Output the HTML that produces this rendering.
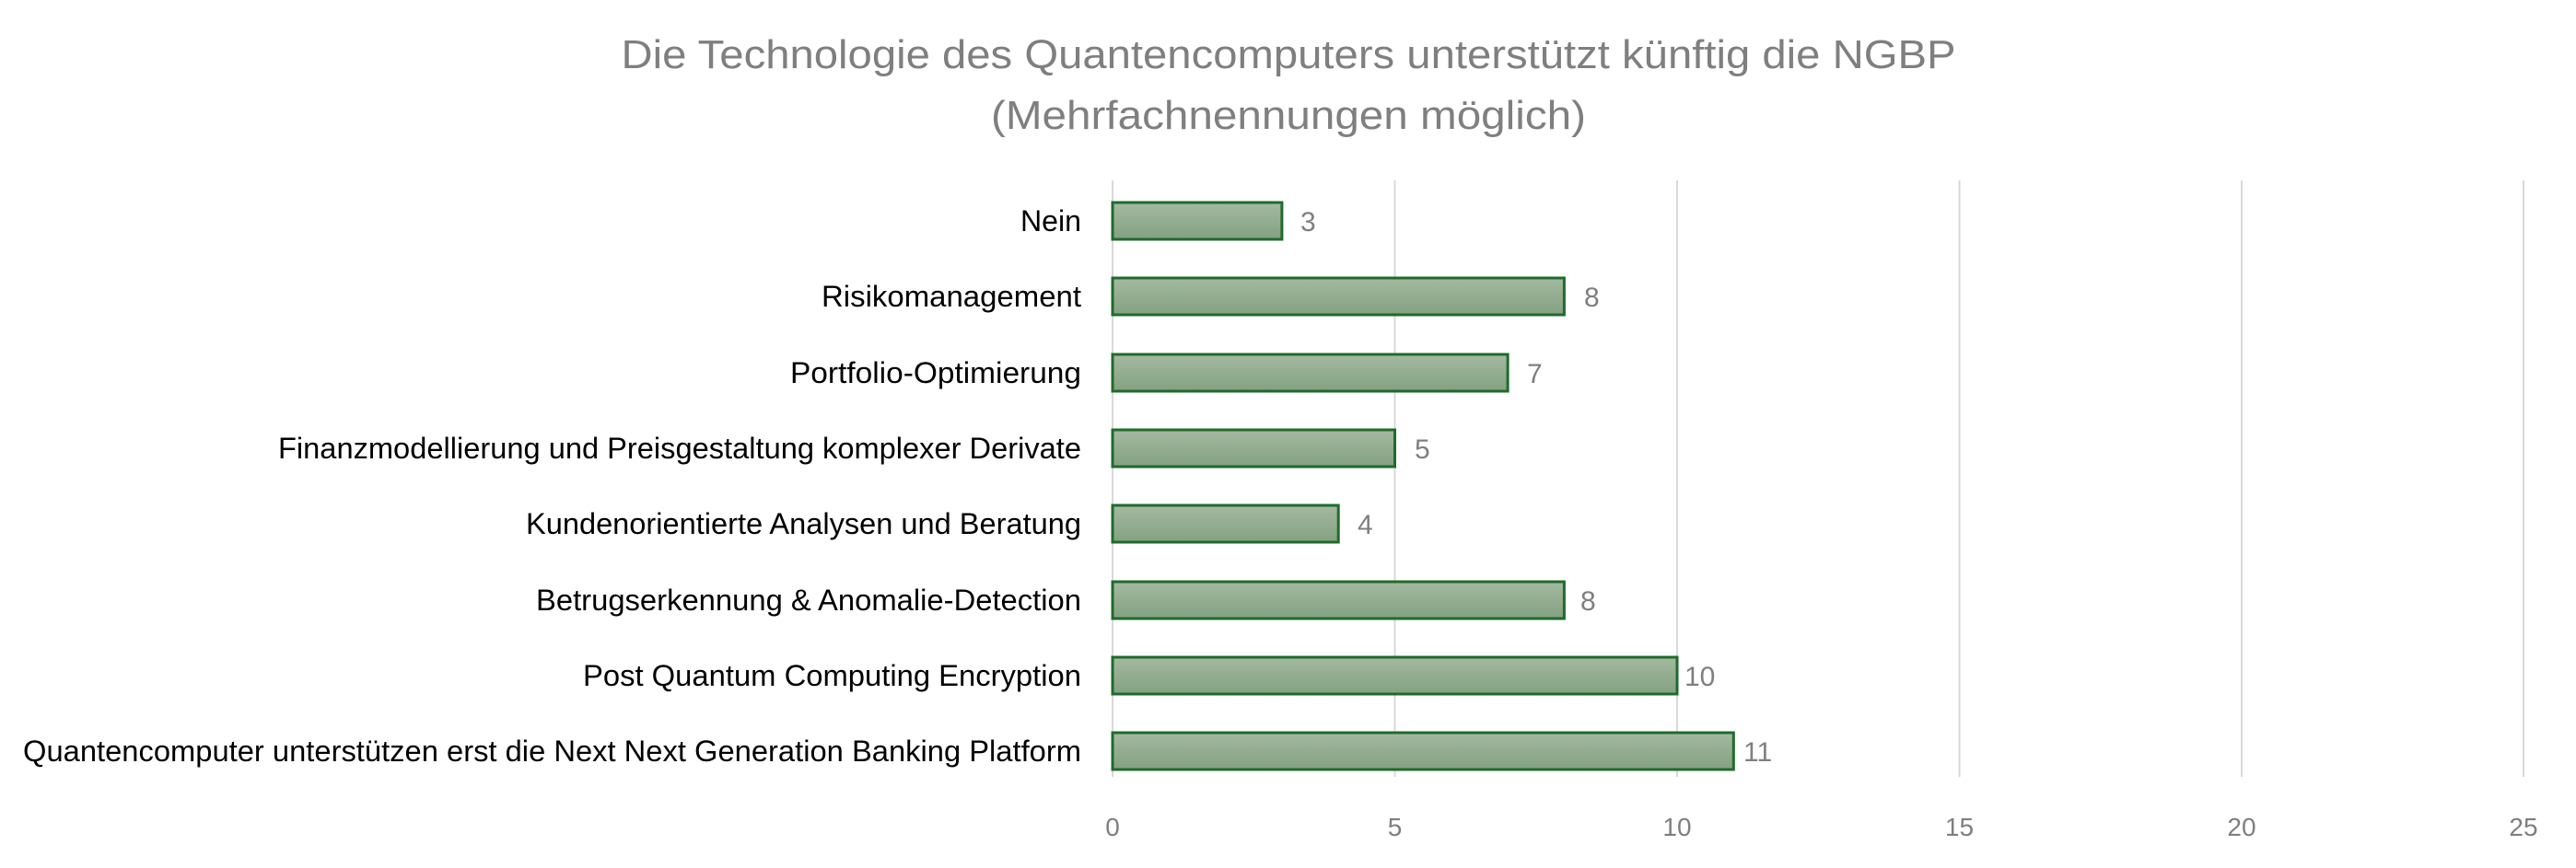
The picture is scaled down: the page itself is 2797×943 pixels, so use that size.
<!DOCTYPE html>
<html><head><meta charset="utf-8"><style>
body{margin:0;background:#fff;}
svg{display:block;font-family:"Liberation Sans",sans-serif;}
</style></head><body>
<svg width="2797" height="943" xmlns="http://www.w3.org/2000/svg">
<defs><linearGradient id="g" x1="0" y1="0" x2="0" y2="1"><stop offset="0" stop-color="#a4b9a1"/><stop offset="1" stop-color="#83a181"/></linearGradient></defs>
<text x="1399" y="74" text-anchor="middle" font-size="44" fill="#7f7f7f" textLength="1449" lengthAdjust="spacingAndGlyphs">Die Technologie des Quantencomputers unterstützt künftig die NGBP</text>
<text x="1399" y="140" text-anchor="middle" font-size="44" fill="#7f7f7f" textLength="646" lengthAdjust="spacingAndGlyphs">(Mehrfachnennungen möglich)</text>
<g stroke="#d9d9d9" stroke-width="2">
<line x1="1208" y1="196" x2="1208" y2="844"/><line x1="1514.5" y1="196" x2="1514.5" y2="844"/><line x1="1821" y1="196" x2="1821" y2="844"/><line x1="2127.5" y1="196" x2="2127.5" y2="844"/><line x1="2434" y1="196" x2="2434" y2="844"/><line x1="2740" y1="196" x2="2740" y2="844"/>
</g>
<g font-size="28" fill="#7f7f7f" text-anchor="middle">
<text x="1208" y="908">0</text><text x="1514.5" y="908">5</text><text x="1821" y="908">10</text><text x="2127.5" y="908">15</text><text x="2434" y="908">20</text><text x="2740" y="908">25</text>
</g>
<g fill="url(#g)" stroke="#1f6b2b" stroke-width="3">
<rect x="1208" y="220" width="183.9" height="40"/>
<rect x="1208" y="302" width="490.4" height="40"/>
<rect x="1208" y="385" width="429.1" height="40"/>
<rect x="1208" y="467" width="306.5" height="40"/>
<rect x="1208" y="549" width="245.2" height="40"/>
<rect x="1208" y="632" width="490.4" height="40"/>
<rect x="1208" y="714" width="613" height="40"/>
<rect x="1208" y="796" width="674.3" height="40"/>
</g>
<g font-size="30" fill="#7f7f7f">
<text x="1412" y="251">3</text><text x="1720" y="333">8</text><text x="1658" y="416">7</text><text x="1536" y="498">5</text><text x="1474" y="580">4</text><text x="1716" y="663">8</text><text x="1829" y="745">10</text><text x="1893" y="827">11</text>
</g>
<g font-size="32" fill="#000" text-anchor="end" lengthAdjust="spacingAndGlyphs">
<text x="1174" y="251" textLength="66" lengthAdjust="spacingAndGlyphs">Nein</text>
<text x="1174" y="333" textLength="282" lengthAdjust="spacingAndGlyphs">Risikomanagement</text>
<text x="1174" y="416" textLength="316" lengthAdjust="spacingAndGlyphs">Portfolio-Optimierung</text>
<text x="1174" y="498" textLength="872" lengthAdjust="spacingAndGlyphs">Finanzmodellierung und Preisgestaltung komplexer Derivate</text>
<text x="1174" y="580" textLength="603" lengthAdjust="spacingAndGlyphs">Kundenorientierte Analysen und Beratung</text>
<text x="1174" y="663" textLength="592" lengthAdjust="spacingAndGlyphs">Betrugserkennung &amp; Anomalie-Detection</text>
<text x="1174" y="745" textLength="541" lengthAdjust="spacingAndGlyphs">Post Quantum Computing Encryption</text>
<text x="1174" y="827" textLength="1149" lengthAdjust="spacingAndGlyphs">Quantencomputer unterstützen erst die Next Next Generation Banking Platform</text>
</g>
</svg>
</body></html>
